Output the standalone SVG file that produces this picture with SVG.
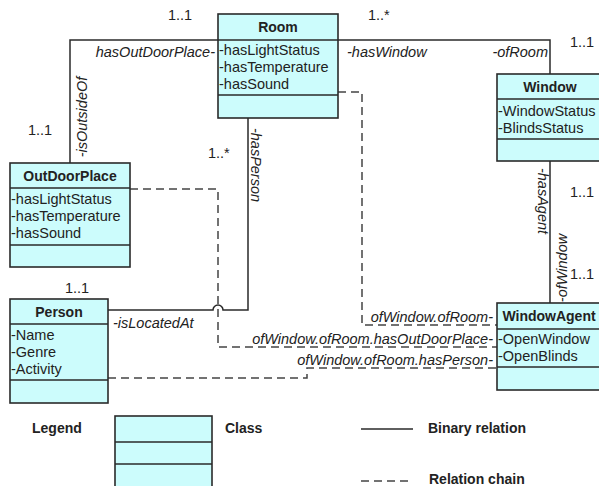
<svg xmlns="http://www.w3.org/2000/svg" width="599" height="486" viewBox="0 0 599 486">
<style>
text{font-family:"Liberation Sans",Arial,sans-serif;font-size:14.5px;fill:#222}
.t{font-weight:bold;text-anchor:middle;font-size:14px}
.b{font-weight:bold;font-size:14px}
.i{font-style:italic}
.box{fill:#ccfcfc;stroke:#2a2a2a;stroke-width:1.6}
.div{stroke:#2a2a2a;stroke-width:1.6}
.rel{fill:none;stroke:#2a2a2a;stroke-width:1.5}
.chain{fill:none;stroke:#444;stroke-width:1.5;stroke-dasharray:8,5}
</style>
<rect width="599" height="486" fill="#fff"/>
<g id="connectors">
<path class="rel" d="M218,40 H70 V163"/>
<path class="rel" d="M338,40 H550 V74"/>
<path class="rel" d="M550,161 V303"/>
<path class="rel" d="M108,310 H213 A5,5 0 0 1 223,310 H248 V118"/>
<path class="chain" d="M338,92 H362 V325 H497"/>
<path class="chain" d="M130,189 H218 V347 H497"/>
<path class="chain" d="M108,378 H307 V368 H497"/>
<text x="168" y="20">1..1</text>
<text class="i" x="215" y="57" text-anchor="end">hasOutDoorPlace-</text>
<text class="i" transform="translate(87,117) rotate(-90)" text-anchor="middle">-isOutsideOf</text>
<text x="28" y="135">1..1</text>
<text x="208" y="158">1..*</text>
<text class="i" transform="translate(251,165) rotate(90)" text-anchor="middle">-hasPerson</text>
<text x="368" y="20">1..*</text>
<text class="i" x="347" y="57">-hasWindow</text>
<text class="i" x="548" y="57" text-anchor="end">-ofRoom</text>
<text x="570" y="47">1..1</text>
<text class="i" transform="translate(538,201) rotate(90)" text-anchor="middle">-hasAgent</text>
<text class="i" transform="translate(567,268) rotate(-90)" text-anchor="middle">-ofWindow</text>
<text x="570" y="197">1..1</text>
<text x="570" y="279">1..1</text>
<text x="65" y="293">1..1</text>
<text class="i" x="113" y="328">-isLocatedAt</text>
<text class="i" x="493" y="322" text-anchor="end">ofWindow.ofRoom-</text>
<text class="i" x="493" y="344" text-anchor="end">ofWindow.ofRoom.hasOutDoorPlace-</text>
<text class="i" x="493" y="365" text-anchor="end">ofWindow.ofRoom.hasPerson-</text>
</g>
<g id="Room">
<rect class="box" x="218" y="14" width="120" height="104"/>
<line class="div" x1="218" y1="40" x2="338" y2="40"/>
<line class="div" x1="218" y1="95" x2="338" y2="95"/>
<text class="t" x="278" y="32">Room</text>
<text x="219" y="55">-hasLightStatus</text>
<text x="219" y="72">-hasTemperature</text>
<text x="219" y="89">-hasSound</text>
</g>
<g id="OutDoorPlace">
<rect class="box" x="10" y="163" width="120" height="104"/>
<line class="div" x1="10" y1="188" x2="130" y2="188"/>
<line class="div" x1="10" y1="245" x2="130" y2="245"/>
<text class="t" x="70" y="181">OutDoorPlace</text>
<text x="11" y="204">-hasLightStatus</text>
<text x="11" y="221">-hasTemperature</text>
<text x="11" y="238">-hasSound</text>
</g>
<g id="Person">
<rect class="box" x="10" y="299" width="98" height="104"/>
<line class="div" x1="10" y1="324" x2="108" y2="324"/>
<line class="div" x1="10" y1="380" x2="108" y2="380"/>
<text class="t" x="59" y="317">Person</text>
<text x="11" y="340">-Name</text>
<text x="11" y="357">-Genre</text>
<text x="11" y="374">-Activity</text>
</g>
<g id="Window">
<rect class="box" x="497" y="74" width="106" height="87"/>
<line class="div" x1="497" y1="99" x2="603" y2="99"/>
<line class="div" x1="497" y1="139" x2="603" y2="139"/>
<text class="t" x="550" y="92">Window</text>
<text x="498" y="116">-WindowStatus</text>
<text x="498" y="133">-BlindsStatus</text>
</g>
<g id="WindowAgent">
<rect class="box" x="497" y="303" width="106" height="87"/>
<line class="div" x1="497" y1="329" x2="603" y2="329"/>
<line class="div" x1="497" y1="367" x2="603" y2="367"/>
<text class="t" x="549" y="321">WindowAgent</text>
<text x="498" y="344">-OpenWindow</text>
<text x="498" y="361">-OpenBlinds</text>
</g>
<g id="legend">
<text class="b" x="32" y="433">Legend</text>
<rect class="box" x="115" y="416" width="97" height="80"/>
<line class="div" x1="115" y1="442" x2="212" y2="442"/>
<line class="div" x1="115" y1="464" x2="212" y2="464"/>
<text class="b" x="225" y="433">Class</text>
<line class="rel" x1="361" y1="429" x2="413" y2="429"/>
<text class="b" x="428" y="433">Binary relation</text>
<line class="chain" x1="361" y1="481" x2="413" y2="481"/>
<text class="b" x="429" y="484">Relation chain</text>
</g>
</svg>
